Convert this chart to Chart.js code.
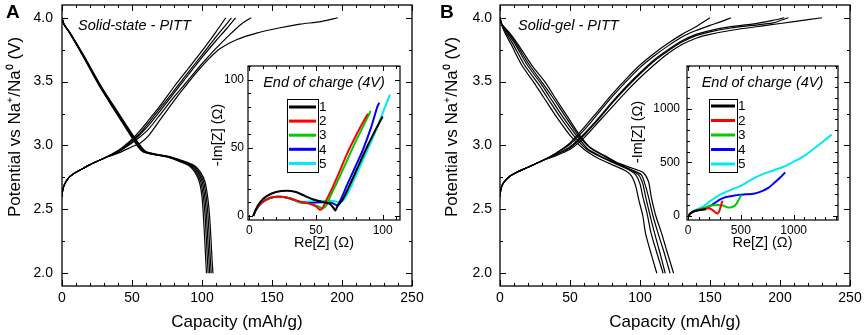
<!DOCTYPE html>
<html>
<head>
<meta charset="utf-8">
<script src="https://cdn.jsdelivr.net/npm/chart.js@4.4.0/dist/chart.umd.min.js"></script>
<style>
  body { margin: 0; background: #fff; width: 865px; height: 335px; position: relative; overflow: hidden; }
  canvas { position: absolute; }
</style>
</head>
<body>
<canvas id="mainA" width="432" height="335" style="left:0px;top:0px"></canvas>
<canvas id="mainB" width="430" height="335" style="left:435px;top:0px"></canvas>
<canvas id="insetA" width="205" height="195" style="left:200px;top:60px"></canvas>
<canvas id="insetB" width="220" height="195" style="left:625px;top:60px"></canvas>
<script>
// ---- data: [capacity mAh/g, potential V] ----
const capTicks = [0, 50, 100, 150, 200, 250];
const voltTicks = [2.0, 2.5, 3.0, 3.5, 4.0];

// panel A, solid-state
const chargeA1 = [[0,2.6],[0.5,2.65],[2,2.7],[5,2.75],[10,2.79],[15,2.82],[20,2.85],[30,2.9],[40,2.94],[50,2.99],[56,3.02],[62,3.08],[70,3.2],[80,3.35],[90,3.49],[96,3.57],[105,3.68],[113,3.76],[125,3.83],[139,3.88],[155,3.92],[170,3.95],[185,3.97],[197,4.0]];
const chargeA2 = [[0,2.6],[0.5,2.65],[2,2.7],[5,2.75],[10,2.79],[15,2.82],[20,2.85],[30,2.9],[40,2.95],[50,3.02],[56,3.07],[62,3.13],[70,3.24],[80,3.38],[90,3.51],[100,3.64],[110,3.76],[120,3.87],[128,3.95],[135,4.0]];
const chargeA3 = [[0,2.6],[0.5,2.65],[2,2.7],[5,2.75],[10,2.79],[15,2.82],[20,2.85],[30,2.9],[40,2.95],[50,3.03],[56,3.09],[62,3.16],[70,3.27],[80,3.41],[90,3.55],[100,3.69],[110,3.82],[118,3.92],[124,4.0]];
const chargeA4 = [[0,2.6],[0.5,2.65],[2,2.7],[5,2.75],[10,2.79],[15,2.82],[20,2.85],[30,2.9],[40,2.95],[50,3.04],[56,3.1],[62,3.18],[70,3.29],[80,3.43],[90,3.57],[100,3.71],[110,3.85],[116,3.93],[121,4.0]];
const chargeA5 = [[0,2.6],[0.5,2.65],[2,2.7],[5,2.75],[10,2.79],[15,2.82],[20,2.85],[30,2.9],[40,2.96],[50,3.05],[56,3.12],[62,3.2],[70,3.31],[80,3.46],[90,3.6],[100,3.74],[110,3.89],[117,4.0]];
const dischargeA1 = [[0,4.0],[1.3,3.95],[5.5,3.88],[15,3.7],[27,3.46],[39,3.25],[50,3.06],[55,2.98],[58,2.95],[65,2.93],[75,2.91],[85,2.87],[91,2.84],[95,2.79],[98,2.72],[100,2.6],[101,2.45],[102,2.25],[102.7,2.1],[103.2,2.0]];
const dischargeA2 = [[0,4.0],[1.3,3.95],[5.6,3.88],[15.2,3.7],[27.3,3.46],[39.4,3.25],[50.5,3.06],[55.6,2.98],[58.6,2.95],[65.8,2.93],[75.8,2.91],[86,2.87],[92,2.84],[96,2.79],[99,2.72],[101,2.6],[102.2,2.45],[103.2,2.25],[103.9,2.1],[104.4,2.0]];
const dischargeA3 = [[0,4.0],[1.4,3.95],[5.7,3.88],[15.4,3.7],[27.6,3.46],[39.8,3.25],[51,3.06],[56.2,2.98],[59.2,2.95],[66.5,2.93],[76.5,2.91],[87,2.87],[93,2.84],[97,2.79],[100,2.72],[102,2.6],[103.2,2.45],[104.2,2.25],[105,2.1],[105.5,2.0]];
const dischargeA4 = [[0,4.0],[1.4,3.95],[5.8,3.88],[15.6,3.7],[27.9,3.46],[40.2,3.25],[51.5,3.06],[56.8,2.98],[59.8,2.95],[67.2,2.93],[77.3,2.91],[88,2.87],[94,2.84],[98,2.79],[101,2.72],[103,2.6],[104.3,2.45],[105.3,2.25],[106,2.1],[106.6,2.0]];
const dischargeA5 = [[0,4.0],[1.5,3.95],[5.9,3.88],[15.8,3.7],[28.2,3.46],[40.6,3.25],[52,3.06],[57.4,2.98],[60.4,2.95],[68,2.93],[78,2.91],[89,2.87],[95,2.84],[99,2.79],[102,2.72],[104,2.6],[105.4,2.45],[106.5,2.25],[107.2,2.1],[107.8,2.0]];

// panel B, solid-gel
const chargeB1 = [[0,2.6],[0.5,2.65],[2,2.7],[6,2.75],[12,2.79],[20,2.83],[30,2.88],[40,2.94],[50,3.02],[60,3.14],[70,3.27],[80,3.4],[90,3.52],[100,3.63],[110,3.72],[120,3.8],[130,3.87],[140,3.93],[150,4.0]];
const chargeB2 = [[0,2.6],[0.5,2.65],[2,2.7],[6,2.75],[12,2.79],[20,2.83],[30,2.88],[40,2.94],[50,3.01],[60,3.12],[70,3.25],[80,3.38],[90,3.5],[100,3.61],[110,3.7],[120,3.78],[130,3.85],[140,3.9],[150,3.94],[158,3.97],[165,4.0]];
const chargeB3 = [[0,2.6],[0.5,2.65],[2,2.7],[6,2.75],[12,2.79],[20,2.83],[30,2.88],[40,2.93],[50,2.99],[60,3.09],[70,3.21],[80,3.34],[90,3.46],[100,3.57],[110,3.67],[120,3.75],[130,3.82],[140,3.87],[150,3.9],[165,3.93],[180,3.95],[195,3.98],[203,4.0]];
const chargeB4 = [[0,2.6],[0.5,2.65],[2,2.7],[6,2.75],[12,2.79],[20,2.83],[30,2.88],[40,2.93],[50,2.98],[60,3.08],[70,3.2],[80,3.33],[90,3.45],[100,3.56],[110,3.66],[120,3.74],[130,3.81],[140,3.86],[150,3.89],[165,3.92],[180,3.94],[195,3.96],[206,4.0]];
const chargeB5 = [[0,2.6],[0.5,2.65],[2,2.7],[6,2.75],[12,2.79],[20,2.83],[30,2.88],[40,2.92],[50,2.97],[60,3.06],[70,3.18],[80,3.3],[90,3.42],[100,3.53],[110,3.63],[120,3.72],[130,3.79],[140,3.84],[150,3.87],[170,3.91],[190,3.94],[210,3.97],[230,4.0]];
const dischargeB1 = [[0,4.0],[1,3.95],[3.6,3.88],[8,3.79],[15.5,3.63],[25,3.48],[31,3.38],[40,3.23],[50,3.08],[60,2.97],[70,2.9],[80,2.85],[90,2.8],[94,2.76],[97,2.68],[99,2.58],[102,2.45],[104,2.31],[108,2.15],[112,2.0]];
const dischargeB2 = [[0,4.0],[1.1,3.95],[4.5,3.88],[9.5,3.79],[17.5,3.63],[27.5,3.48],[33.5,3.38],[42.5,3.23],[52.5,3.08],[62,2.97],[72,2.91],[82,2.86],[92,2.81],[97,2.77],[100,2.7],[102,2.6],[105,2.47],[108,2.31],[112,2.16],[116.5,2.0]];
const dischargeB3 = [[0,4.0],[1.2,3.95],[5.5,3.88],[11,3.79],[19.5,3.63],[29.5,3.48],[35.5,3.38],[44.5,3.23],[54.5,3.08],[63,2.97],[73,2.91],[83,2.86],[93,2.81],[99,2.77],[102,2.7],[104,2.6],[107,2.46],[110.5,2.31],[114,2.17],[118,2.0]];
const dischargeB4 = [[0,4.0],[1.3,3.95],[6.3,3.88],[12,3.79],[21,3.63],[31,3.48],[37.5,3.38],[46.5,3.23],[56,3.08],[64.5,2.98],[74,2.92],[84,2.86],[94,2.81],[101,2.77],[104,2.68],[106,2.6],[109,2.46],[113,2.31],[117,2.17],[121.5,2.0]];
const dischargeB5 = [[0,4.0],[1.3,3.95],[7,3.88],[13,3.79],[22.6,3.63],[32,3.5],[39,3.38],[48,3.23],[57,3.08],[65,2.98],[75,2.92],[85,2.86],[95,2.82],[102,2.79],[106,2.72],[108,2.6],[111,2.46],[115.5,2.31],[119,2.18],[124,2.0]];

// insets: Nyquist plots at end of charge, [Re Z, -Im Z] in ohm
const cycleLabels = ['1', '2', '3', '4', '5'];
const cycleColors = ['#000000', '#ff0000', '#00cc00', '#0000ff', '#00e8f0'];
const zTicksA = [0, 50, 100];
const zTicksB = [0, 500, 1000];

const eisA1 = [[3,0],[5,5],[8,10],[13,14.5],[20,17.5],[28,18.5],[35,17.5],[42,14.5],[48,12],[54,10.5],[60,9],[63,6],[64.5,4],[66,7],[70,12],[75,22],[81,35],[87,48],[93,60],[100,73]];
const eisA2 = [[3,0],[5,4.5],[9,9.5],[15,13],[22,14],[30,13],[38,10.5],[45,9],[50,7],[53,4.5],[55,6],[58,12],[62,20],[67,31],[73,45],[80,59],[86,70],[89,75]];
const eisA3 = [[3,0],[5,4.5],[9,9.5],[15,13],[22,14],[30,13],[38,10],[45,9],[52,7],[55,5.5],[58,8],[61,15],[66,25],[72,38],[79,53],[86,67],[91,77]];
const eisA4 = [[3,0],[5,4.5],[9,9.5],[15,13],[22,14],[30,13],[38,10],[45,9.5],[55,10],[62,9.5],[66,8],[69,13],[73,22],[79,35],[85,48],[91,64],[96,80],[97.5,83]];
const eisA5 = [[3,0],[5,4.5],[9,9.5],[15,13],[22,14],[30,13],[38,10.5],[45,10.5],[55,11],[63,11],[68,10],[71,12],[75,19],[81,32],[88,47],[95,63],[101,78],[105.5,89]];

const eisB1 = [[5,0],[20,20],[50,40],[90,50],[130,55],[170,60]];
const eisB2 = [[5,0],[30,25],[70,45],[120,55],[170,65],[200,70],[230,55],[260,30],[280,20],[295,40],[310,90],[325,140]];
const eisB3 = [[5,0],[30,25],[70,45],[120,60],[170,80],[220,95],[280,100],[330,95],[370,80],[410,80],[450,100],[480,150],[505,195]];
const eisB4 = [[5,0],[30,25],[70,45],[120,60],[180,75],[240,110],[300,150],[360,175],[420,185],[480,195],[540,200],[620,205],[700,230],[760,260],[820,310],[870,355],[920,405]];
const eisB5 = [[5,0],[30,30],[60,50],[100,65],[150,90],[200,130],[300,195],[400,240],[500,280],[600,337],[700,386],[800,421],[900,456],[1000,505],[1100,560],[1200,633],[1300,710],[1360,760]];

const FONT = '"Liberation Sans", Arial, sans-serif';

// white plot area, frame, inward major + minor ticks on all four sides
const frame = {
  id: 'frame',
  beforeDraw(chart) {
    const { ctx, chartArea: a } = chart;
    ctx.save();
    ctx.fillStyle = '#fff';
    ctx.fillRect(a.left, a.top, a.width, a.height);
    ctx.restore();
  },
  afterDatasetsDraw(chart, args, o) {
    const { ctx, chartArea: a, scales: { x, y } } = chart;
    ctx.save();
    ctx.strokeStyle = '#000';
    ctx.lineWidth = 1;
    ctx.beginPath();
    const mark = (scale, v, len) => {
      if (scale === x) {
        const p = Math.round(x.getPixelForValue(v)) + 0.5;
        ctx.moveTo(p, a.bottom); ctx.lineTo(p, a.bottom - len);
        ctx.moveTo(p, a.top); ctx.lineTo(p, a.top + len);
      } else {
        const p = Math.round(y.getPixelForValue(v)) + 0.5;
        ctx.moveTo(a.left, p); ctx.lineTo(a.left + len, p);
        ctx.moveTo(a.right, p); ctx.lineTo(a.right - len, p);
      }
    };
    [[x, o.xMinor], [y, o.yMinor]].forEach(([s, step]) => {
      const n0 = Math.ceil(s.min / step), n1 = Math.floor(s.max / step);
      for (let n = n0; n <= n1; n++) mark(s, n * step, o.minor);
      s.ticks.forEach(t => mark(s, t.value, o.major));
    });
    ctx.stroke();
    ctx.lineWidth = o.border;
    ctx.strokeRect(a.left, a.top, a.width, a.height);
    ctx.restore();
  }
};

// boxed legend inside the inset
const boxLegend = {
  id: 'boxLegend',
  afterDatasetsDraw(chart, args, o) {
    if (!o.show) return;
    const { ctx, chartArea: a } = chart;
    const bx = a.left + o.x, by = a.top + o.y;
    ctx.save();
    ctx.fillStyle = '#fff';
    ctx.fillRect(bx, by, o.w, o.h);
    ctx.strokeStyle = '#000';
    ctx.lineWidth = 1;
    ctx.strokeRect(bx + 0.5, by + 0.5, o.w, o.h);
    ctx.font = '13.5px ' + FONT;
    ctx.textAlign = 'left';
    ctx.textBaseline = 'middle';
    chart.data.datasets.forEach((ds, i) => {
      const ry = by + o.row0 + i * o.gap;
      ctx.strokeStyle = ds.borderColor;
      ctx.lineWidth = 3;
      ctx.beginPath();
      ctx.moveTo(bx + 2, ry); ctx.lineTo(bx + o.w - 2, ry);
      ctx.stroke();
      ctx.fillStyle = '#000';
      ctx.fillText(ds.label, bx + o.w + 1, ry + 0.5);
    });
    ctx.restore();
  }
};

// free text: panel letters, captions, rotated y titles
const notes = {
  id: 'notes',
  afterDraw(chart, args, o) {
    const { ctx, chartArea: a } = chart;
    (o.items || []).forEach(n => {
      ctx.save();
      ctx.fillStyle = '#000';
      ctx.font = n.font;
      ctx.textAlign = n.align || 'left';
      ctx.textBaseline = n.baseline || 'alphabetic';
      const x = n.x === 'center' ? (a.left + a.right) / 2 : n.x;
      ctx.translate(x, n.y);
      if (n.rot) ctx.rotate(n.rot);
      ctx.fillText(n.text, 0, 0);
      ctx.restore();
    });
  }
};

function toXY(pts) { return pts.map(p => ({ x: p[0], y: p[1] })); }

function axis(o) {
  return {
    type: 'linear', min: o.min, max: o.max,
    afterBuildTicks: s => { s.ticks = o.ticks.map(v => ({ value: v })); },
    afterFit: s => {
      if (o.size.w) s.width = o.size.w;
      if (o.size.h) s.height = o.size.h;
      s.paddingLeft = s.paddingRight = s.paddingTop = s.paddingBottom = 0;
    },
    grid: { display: false, drawTicks: false },
    border: { display: false },
    ticks: { font: { family: FONT, size: o.tickSize }, color: '#000', padding: o.tickPad, maxRotation: 0,
      callback: o.fmt },
    title: { display: !!o.title, text: o.title || '', color: '#000', font: { family: FONT, size: o.titleSize },
      padding: o.titlePad }
  };
}

function mainChart(id, o) {
  const sets = o.curves.map(pts => ({
    data: toXY(pts), borderColor: '#000', borderWidth: 1.2, pointRadius: 0, tension: 0.25, fill: false
  }));
  return new Chart(document.getElementById(id), {
    type: 'line',
    data: { datasets: sets },
    options: {
      responsive: false, animation: false, events: [],
      layout: { padding: { top: 5, right: o.padRight, left: 0, bottom: 0 } },
      plugins: {
        legend: { display: false }, tooltip: { enabled: false },
        frame: { xMinor: 10, yMinor: 0.25, major: 6, minor: 3, border: 1.3 },
        notes: { items: o.notes.concat([{ text: 'Potential vs Na\u207A/Na\u2070 (V)', x: o.titleX, y: 127,
          rot: -Math.PI / 2, align: 'center', baseline: 'middle', font: '17px ' + FONT }]) }
      },
      scales: {
        x: axis({ min: 0, max: 250, ticks: capTicks, size: { h: 49 }, tickSize: 14, tickPad: 4,
          fmt: v => v, title: 'Capacity (mAh/g)', titleSize: 17, titlePad: { top: 0, bottom: 2 } }),
        y: axis({ min: 1.9, max: 4.1, ticks: voltTicks, size: { w: o.yWidth }, tickSize: 14, tickPad: o.yPad,
          fmt: v => v.toFixed(1) })
      }
    },
    plugins: [frame, notes]
  });
}

function insetChart(id, o) {
  const sets = o.curves.map((pts, i) => ({
    label: cycleLabels[i], data: toXY(pts), borderColor: cycleColors[i], borderWidth: 2,
    pointRadius: 0, tension: 0.3, fill: false
  }));
  return new Chart(document.getElementById(id), {
    type: 'line',
    data: { datasets: sets },
    options: {
      responsive: false, animation: false, events: [],
      layout: { padding: { top: 6, right: o.padRight, left: 0, bottom: 0 } },
      plugins: {
        legend: { display: false }, tooltip: { enabled: false },
        frame: { xMinor: o.minor, yMinor: o.minor, major: 5, minor: 3, border: 1.2 },
        boxLegend: Object.assign({ show: true }, o.legend),
        notes: { items: [
          { text: 'End of charge (4V)', x: 'center', y: 27, align: 'center', font: 'italic 14.5px ' + FONT },
          { text: '-Im[Z] (\u03A9)', x: o.titleX, y: o.titleY, rot: -Math.PI / 2, align: 'center',
            baseline: 'middle', font: '14.5px ' + FONT }
        ] }
      },
      scales: {
        x: axis({ min: o.x[0], max: o.x[1], ticks: o.ticks, size: { h: 35 }, tickSize: 12, tickPad: 3,
          fmt: v => v, title: 'Re[Z] (\u03A9)', titleSize: 14.5, titlePad: { top: 0, bottom: 3 } }),
        y: axis({ min: o.y[0], max: o.y[1], ticks: o.ticks, size: { w: o.yWidth }, tickSize: 12, tickPad: o.yPad,
          fmt: v => v })
      }
    },
    plugins: [frame, boxLegend, notes]
  });
}

mainChart('mainA', {
  curves: [chargeA1, chargeA2, chargeA3, chargeA4, chargeA5,
           dischargeA1, dischargeA2, dischargeA3, dischargeA4, dischargeA5],
  padRight: 20, yWidth: 62, yPad: 9, titleX: 15.5,
  notes: [
    { text: 'A', x: 6, y: 18, font: 'bold 19px ' + FONT },
    { text: 'Solid-state - PITT', x: 78, y: 30, font: 'italic 14.5px ' + FONT }
  ]
});

mainChart('mainB', {
  curves: [chargeB1, chargeB2, chargeB3, chargeB4, chargeB5,
           dischargeB1, dischargeB2, dischargeB3, dischargeB4, dischargeB5],
  padRight: 15, yWidth: 65, yPad: 8, titleX: 17,
  notes: [
    { text: 'B', x: 5, y: 18, font: 'bold 19px ' + FONT },
    { text: 'Solid-gel - PITT', x: 83, y: 30, font: 'italic 14.5px ' + FONT }
  ]
});

insetChart('insetA', {
  curves: [eisA1, eisA2, eisA3, eisA4, eisA5],
  x: [-1, 113], y: [-3, 110], ticks: zTicksA, minor: 10,
  padRight: 5, yWidth: 48, yPad: 4, titleX: 18, titleY: 75,
  legend: { x: 39, y: 33, w: 31, h: 73, row0: 8, gap: 14.1 }
});

insetChart('insetB', {
  curves: [eisB1, eisB2, eisB3, eisB4, eisB5],
  x: [-10, 1420], y: [-40, 1400], ticks: zTicksB, minor: 100,
  padRight: 7, yWidth: 62, yPad: 7, titleX: 13, titleY: 72,
  legend: { x: 22, y: 33, w: 28, h: 73, row0: 7, gap: 14.5 }
});
</script>
</body>
</html>
